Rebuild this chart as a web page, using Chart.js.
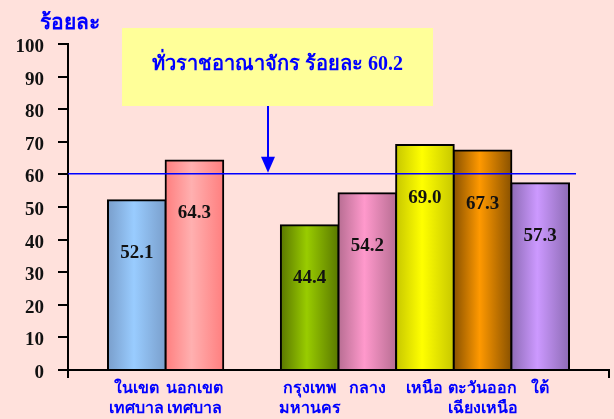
<!DOCTYPE html>
<html>
<head>
<meta charset="utf-8">
<script src="https://cdn.jsdelivr.net/npm/chart.js@4/dist/chart.umd.min.js"></script>
<style>
  html, body { margin: 0; padding: 0; background: #FFE1DC; }
  #wrap { width: 614px; height: 419px; }
</style>
</head>
<body>
<div id="wrap"><canvas id="c" width="614" height="419"></canvas></div>
<script>
// ---- data ----
const categories = [
  ['ในเขต', 'เทศบาล'],
  ['นอกเขต', 'เทศบาล'],
  '',
  ['กรุงเทพ', 'มหานคร'],
  'กลาง',
  'เหนือ',
  ['ตะวันออก', 'เฉียงเหนือ'],
  'ใต้'
];
const values = [52.1, 64.3, null, 44.4, 54.2, 69.0, 67.3, 57.3];
const nationalValue = 60.2;
const nationalText = 'ทั่วราชอาณาจักร ร้อยละ ' + nationalValue.toFixed(1);
const yTicks = [0, 10, 20, 30, 40, 50, 60, 70, 80, 90, 100];
const unitLabel = 'ร้อยละ';

// ---- styles ----
const lightColors = ['#99CCFF', '#FFB0B0', null, '#99CC00', '#FF99CC', '#FFFF00', '#FF9900', '#CC99FF'];
const darkColors  = ['#7A9FCC', '#FF7F7F', null, '#5A7800', '#B86E93', '#C8C800', '#8A5200', '#8E6CB6'];
const BG = '#FFE1DC';
const BLUE = '#0000FF';
const SERIF = '"Liberation Serif", "Times New Roman", serif';
const THAI = 'Tahoma, "Liberation Serif", serif';
const PAD = 1.194;
const xMin = -PAD, xMax = categories.length - 1 + PAD;

function barGradient(ctx) {
  const chart = ctx.chart;
  const i = ctx.dataIndex;
  if (!lightColors[i]) return 'rgba(0,0,0,0)';
  const xs = chart.scales.x;
  if (!xs || !chart.chartArea || ctx.type !== 'data') return lightColors[i];
  const cx = xs.getPixelForValue(i);
  const half = (xs.getPixelForValue(1) - xs.getPixelForValue(0)) / 2;
  if (!isFinite(cx) || !isFinite(half)) return lightColors[i];
  const g = chart.ctx.createLinearGradient(cx - half, 0, cx + half, 0);
  g.addColorStop(0, darkColors[i]);
  g.addColorStop(0.45, lightColors[i]);
  g.addColorStop(1, darkColors[i]);
  return g;
}

const bgPlugin = {
  id: 'bg',
  beforeDraw(chart) {
    const c = chart.ctx;
    c.save();
    c.fillStyle = BG;
    c.fillRect(0, 0, chart.width, chart.height);
    c.restore();
  }
};

const overlayPlugin = {
  id: 'overlay',
  afterDatasetsDraw(chart) {
    const c = chart.ctx;
    const area = chart.chartArea;
    const ys = chart.scales.y;
    const meta = chart.getDatasetMeta(0);
    c.save();
    // value labels
    c.font = 'bold 19px ' + SERIF;
    c.fillStyle = '#111';
    c.textAlign = 'center';
    c.textBaseline = 'middle';
    meta.data.forEach((el, i) => {
      if (values[i] == null) return;
      c.fillText(values[i].toFixed(1), el.x, el.y + 53);
    });
    // national reference line
    const yN = ys.getPixelForValue(nationalValue);
    const lastBar = meta.data[meta.data.length - 1];
    const lineEnd = lastBar.x + lastBar.width / 2 + 7;
    c.strokeStyle = BLUE;
    c.lineWidth = 1.5;
    c.beginPath();
    c.moveTo(area.left, yN);
    c.lineTo(lineEnd, yN);
    c.stroke();
    // annotation box
    const bx = area.left + 54, by = 28, bw = 311, bh = 78;
    c.fillStyle = '#FFFF99';
    c.fillRect(bx, by, bw, bh);
    c.fillStyle = BLUE;
    c.font = 'bold 20px ' + THAI;
    c.textAlign = 'center';
    c.textBaseline = 'alphabetic';
    c.fillText(nationalText, bx + bw / 2, by + 42);
    // arrow
    const ax = bx + 146;
    c.strokeStyle = BLUE;
    c.lineWidth = 2;
    c.beginPath();
    c.moveTo(ax, by + bh);
    c.lineTo(ax, yN - 14);
    c.stroke();
    c.beginPath();
    c.moveTo(ax - 7, yN - 17);
    c.lineTo(ax + 7, yN - 17);
    c.lineTo(ax, yN - 1);
    c.closePath();
    c.fill();
    // unit label
    c.font = 'bold 21px ' + THAI;
    c.textAlign = 'center';
    c.fillText(unitLabel, 70, 29);
    c.restore();
  }
};

new Chart(document.getElementById('c'), {
  type: 'bar',
  data: {
    datasets: [{
      data: values.map((v, i) => ({ x: i, y: v })),
      backgroundColor: barGradient,
      borderColor: '#000',
      borderWidth: 2,
      inflateAmount: 1,
      barPercentage: 1,
      categoryPercentage: 1
    }]
  },
  options: {
    responsive: false,
    devicePixelRatio: 1,
    animation: false,
    layout: { padding: { top: 44, right: 5, left: 0, bottom: 0 } },
    plugins: { legend: { display: false }, tooltip: { enabled: false }, title: { display: false } },
    scales: {
      x: {
        type: 'linear',
        offset: false,
        min: xMin,
        max: xMax,
        afterBuildTicks(axis) {
          axis.ticks = [xMin].concat(categories.map((_, i) => i), [xMax]).map(v => ({ value: v }));
        },
        afterFit(axis) { axis.height = 49; },
        border: { display: true, color: '#000', width: 2 },
        grid: {
          offset: false,
          drawOnChartArea: false,
          drawTicks: true,
          tickLength: 8,
          lineWidth: 2,
          color: (ctx) => (ctx.tick && (ctx.tick.value === xMin || ctx.tick.value === xMax)) ? '#000' : 'rgba(0,0,0,0)'
        },
        ticks: {
          autoSkip: false,
          maxRotation: 0,
          padding: 0,
          color: BLUE,
          font: { family: THAI, size: 16, weight: 'bold', lineHeight: 1.3 },
          callback: (v) => (Number.isInteger(v) && categories[v] !== undefined) ? categories[v] : ''
        }
      },
      y: {
        min: 0,
        max: 100,
        afterBuildTicks(axis) { axis.ticks = yTicks.map(v => ({ value: v })); },
        afterFit(axis) { axis.width = 68; },
        border: { display: true, color: '#000', width: 2 },
        grid: { drawOnChartArea: false, drawTicks: true, tickLength: 10, lineWidth: 2, color: '#000' },
        ticks: {
          padding: 14,
          labelOffset: 3,
          color: '#111',
          font: { family: SERIF, size: 19, weight: 'bold' }
        }
      }
    }
  },
  plugins: [bgPlugin, overlayPlugin]
});
</script>
</body>
</html>
